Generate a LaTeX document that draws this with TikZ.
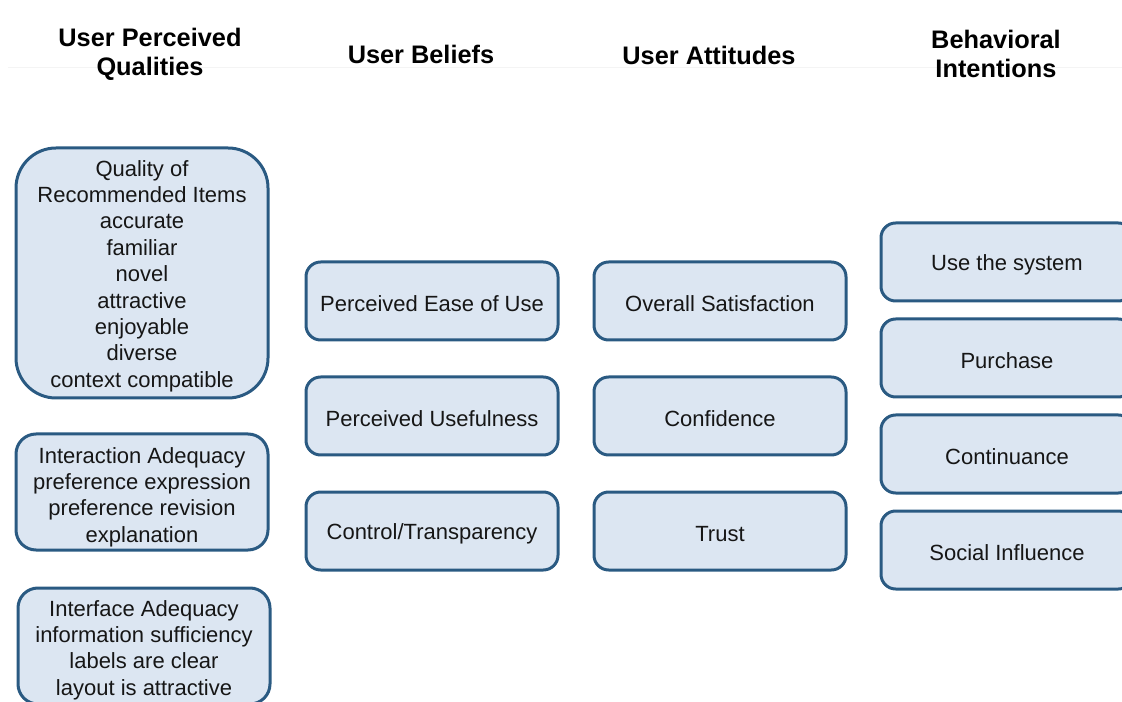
\documentclass[tikz,border=0pt]{standalone}
\usepackage{fontspec}
\setmainfont{Liberation Sans}
\definecolor{BoxFill}{RGB}{220,230,242}
\definecolor{BoxLine}{RGB}{42,90,130}
\definecolor{BoxText}{RGB}{22,22,22}
\definecolor{RuleGray}{RGB}{244,244,244}
\newcommand{\padtop}[1]{\rule{0pt}{#1}}

\tikzset{
	header/.style={align=center, inner sep=0.75pt, font=\fontsize{19}{21.75}\selectfont\bfseries},
	qbox/.style={draw=BoxLine, fill=BoxFill, line width=2.25pt, rounded corners=11pt, align=center,
		text=BoxText, minimum width=189pt, minimum height=58.5pt, inner sep=0pt,
		font=\fontsize{16.5}{19.8}\selectfont, execute at begin node={\rule{0pt}{16.5pt}}},
}

\begin{document}
\begin{tikzpicture}[x=0.75pt,y=0.75pt,yscale=-1,xscale=1]
		\clip (0,0) rectangle (1122,702);

		% Faint rule under the headers
		\draw[RuleGray, line width=0.75pt] (8,68) -- (1122,68);

		% Column headers
		\node[header] (hqual) at (150,54) {User Perceived\\Qualities};
		\node[header] (hbel) at (421,54) {User Beliefs};
		\node[header] (hatt) at (709,55) {User Attitudes};
		\node[header] (hint) at (996,54) {Behavioral\\Intentions};

		% User perceived qualities
		\node[qbox, rounded corners=30pt, minimum height=187.5pt] (quality) at (142,273) {\padtop{16.5pt}Quality of\\Recommended Items\\accurate\\familiar\\novel\\attractive\\enjoyable\\diverse\\context compatible};
		\node[qbox, rounded corners=15pt, minimum height=87pt] (interaction) at (142,492) {\padtop{19.5pt}Interaction Adequacy\\preference expression\\preference revision\\explanation};
		\node[qbox, rounded corners=15pt, minimum height=87pt] (interface) at (144,646) {\padtop{18pt}Interface Adequacy\\information sufficiency\\labels are clear\\layout is attractive};

		% User beliefs
		\node[qbox] (ease) at (432,301) {Perceived Ease of Use};
		\node[qbox] (useful) at (432,416) {Perceived Usefulness};
		\node[qbox] (control) at (432,531) {Control/Transparency};

		% User attitudes
		\node[qbox] (satisf) at (720,301) {Overall Satisfaction};
		\node[qbox] (confid) at (720,416) {Confidence};
		\node[qbox] (trust) at (720,531) {Trust};

		% Behavioral intentions (cut at the right edge)
		\node[qbox] (usesys) at (1007,262) {Use the system};
		\node[qbox] (purchase) at (1007,358) {Purchase};
		\node[qbox] (contin) at (1007,454) {Continuance};
		\node[qbox] (social) at (1007,550) {Social Influence};
	\end{tikzpicture}
\end{document}
